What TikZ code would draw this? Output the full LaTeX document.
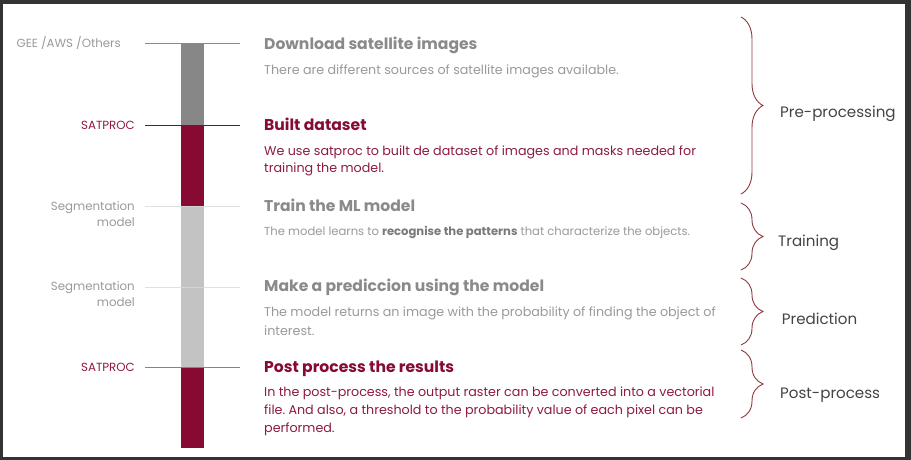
\documentclass[tikz,border=0pt]{standalone}
\usepackage{fontspec}
\setmainfont{Poppins}
\frenchspacing
\usetikzlibrary{decorations.pathreplacing}
\definecolor{crim}{HTML}{870A33}
\definecolor{crimtxt}{HTML}{8E1A44}
\definecolor{bargray}{HTML}{878787}
\definecolor{barlight}{HTML}{C3C3C3}
\definecolor{headgray}{HTML}{8A8A8A}
\definecolor{descgray}{HTML}{9A9A9A}
\definecolor{boldgray}{HTML}{7A7A7A}
\definecolor{bracecol}{HTML}{8E3A40}
\definecolor{framecol}{HTML}{333333}
\definecolor{phasecol}{HTML}{444444}
\tikzset{
  head/.style={anchor=base west, inner sep=0pt, font=\fontsize{15.6}{18}\selectfont\bfseries},
  desc/.style={anchor=base west, inner sep=0pt, font=\fontsize{12.7}{17}\selectfont},
  small/.style={anchor=base west, inner sep=0pt, font=\fontsize{11.6}{14}\selectfont},
  tool/.style={anchor=base east, inner sep=0pt, font=\fontsize{11.8}{14}\selectfont},
  phase/.style={anchor=base west, inner sep=0pt, text=phasecol, font=\fontsize{15.1}{17}\selectfont},
  tick/.style={line width=1pt},
  bracket/.style={draw=bracecol, line width=0.9pt, decorate, decoration={brace, amplitude=22pt, aspect=0.5}},
}
\begin{document}
\begin{tikzpicture}[x=1pt,y=-1pt]
\fill[framecol] (0,0) rectangle (911,460);
\fill[white] (3,4) rectangle (905,457);
\useasboundingbox (0,0) rectangle (911,460);
% bar
\fill[bargray] (181,44) rectangle (204,125);
\fill[crim] (181,125) rectangle (204,206);
\fill[barlight] (181,206) rectangle (204,367);
\fill[crim] (181,367) rectangle (204,448);
% ticks
\draw[tick, headgray] (145,44) -- (240,44);
\draw[tick, crim] (145,125) -- (240,125);
\draw[tick, white!85!black, opacity=0.8] (145,206) -- (240,206);
\draw[tick, white!85!black, opacity=0.8] (145,287) -- (240,287);
\draw[tick, crim!60!white] (145,367) -- (240,367);
% left labels
\node[tool, text=descgray] (t1) at (121,47.7) {GEE /AWS /Others};
\node[tool, text=crimtxt] (t2) at (135,129.3) {SATPROC};
\node[tool, text=descgray] (t3a) at (135,210) {Segmentation};
\node[tool, text=descgray] (t3b) at (135,226) {model};
\node[tool, text=descgray] (t4a) at (135,290.5) {Segmentation};
\node[tool, text=descgray] (t4b) at (135,306.5) {model};
\node[tool, text=crimtxt] (t5) at (135,371) {SATPROC};
% headings and descriptions
\node[head, text=headgray] (h1) at (264,49.5) {Download satellite images};
\node[desc, text=descgray] (d1) at (264,74.3) {There are different sources of satellite images available.};
\node[head, text=crim] (h2) at (264,130) {Built dataset};
\node[desc, text=crimtxt] (d2a) at (264,155) {We use satproc to built de dataset of images and masks needed for};
\node[desc, text=crimtxt] (d2b) at (264,172.7) {training the model.};
\node[head, text=headgray] (h3) at (264,211) {Train the ML model};
\node[small, text=descgray] (d3) at (264,235) {The model learns to \textcolor{boldgray}{\bfseries recognise the patterns} that characterize the objects.};
\node[head, text=headgray] (h4) at (264,291.7) {Make a prediccion using the model};
\node[desc, text=descgray] (d4a) at (264,316.7) {The model returns an image with the probability of finding the object of};
\node[desc, text=descgray] (d4b) at (264,335) {interest.};
\node[head, text=crim] (h5) at (264,372.7) {Post process the results};
\node[desc, text=crimtxt] (d5a) at (264,396.7) {In the post-process, the output raster can be converted into a vectorial};
\node[desc, text=crimtxt] (d5b) at (264,414.3) {file. And also, a threshold to the probability value of each pixel can be};
\node[desc, text=crimtxt] (d5c) at (264,432) {performed.};
% braces
\coordinate (b1s) at (741,17);  \coordinate (b1e) at (741,194);
\coordinate (b2s) at (741,203); \coordinate (b2e) at (741,270);
\coordinate (b3s) at (741,278); \coordinate (b3e) at (741,345);
\coordinate (b4s) at (741,350); \coordinate (b4e) at (741,418);
\draw[bracket] (b1s) -- (b1e);
\draw[bracket] (b2s) -- (b2e);
\draw[bracket] (b3s) -- (b3e);
\draw[bracket] (b4s) -- (b4e);
\node[phase] (p1) at (780,117.3) {Pre-processing};
\node[phase] (p2) at (778,246.7) {Training};
\node[phase] (p3) at (781.7,324.3) {Prediction};
\node[phase] (p4) at (780,398.3) {Post-process};
\end{tikzpicture}
\end{document}
